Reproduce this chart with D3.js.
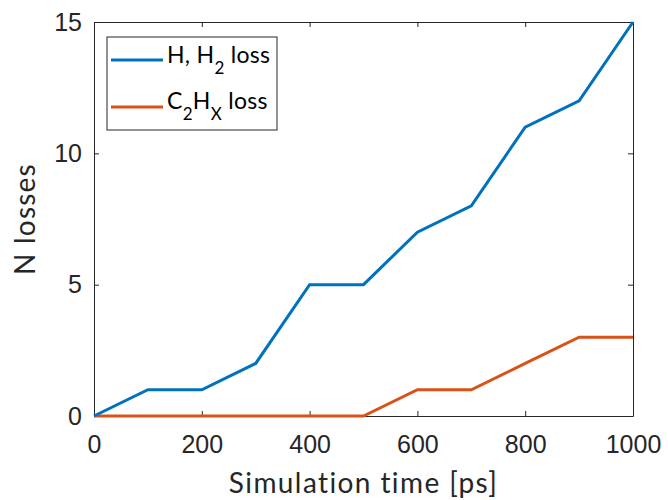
<!DOCTYPE html>
<html>
<head>
<meta charset="utf-8">
<script src="https://cdn.jsdelivr.net/npm/d3@7"></script>
<style>
  body { margin: 0; background: #fff; }
  svg { display: block; font-family: "Lato", "Open Sans", sans-serif; }
</style>
</head>
<body>
<div id="chart"></div>
<script>
const times = [0, 100, 200, 300, 400, 500, 600, 700, 800, 900, 1000];
const hLoss = [0, 1, 1, 2, 5, 5, 7, 8, 11, 12, 15];
const cLoss = [0, 0, 0, 0, 0, 0, 1, 1, 2, 3, 3];
const xTicks = [0, 200, 400, 600, 800, 1000];
const yTicks = [0, 5, 10, 15];

const W = 668, H = 500;
const margin = { top: 22, right: 35, bottom: 84, left: 94 };
const width = W - margin.left - margin.right;
const height = H - margin.top - margin.bottom;
const axisColor = "#262626";

const svg = d3.select("#chart").append("svg")
  .attr("width", W)
  .attr("height", H);

const g = svg.append("g")
  .attr("transform", `translate(${margin.left},${margin.top})`);

const x = d3.scaleLinear().domain([0, 1000]).range([0, width]);
const y = d3.scaleLinear().domain([0, 15]).range([height, 0]);

// axes with inward ticks, box on all sides
function styleAxis(sel) {
  sel.select(".domain").attr("stroke", axisColor).attr("stroke-width", 1);
  sel.selectAll(".tick line").attr("stroke", axisColor);
  sel.selectAll("text").attr("fill", axisColor).attr("font-size", 25);
}

g.append("g")
  .attr("transform", `translate(0,${height})`)
  .call(d3.axisBottom(x).tickValues(xTicks).tickFormat(d3.format("d"))
    .tickSizeInner(-5).tickSizeOuter(0).tickPadding(19))
  .call(styleAxis);

g.append("g")
  .call(d3.axisTop(x).tickValues(xTicks).tickSizeInner(-5).tickSizeOuter(0).tickFormat(""))
  .call(styleAxis);

g.append("g")
  .call(d3.axisLeft(y).tickValues(yTicks).tickSizeInner(-5).tickSizeOuter(0).tickPadding(12))
  .call(styleAxis);

g.append("g")
  .attr("transform", `translate(${width},0)`)
  .call(d3.axisRight(y).tickValues(yTicks).tickSizeInner(-5).tickSizeOuter(0).tickFormat(""))
  .call(styleAxis);

const line = d3.line()
  .x((d, i) => x(times[i]))
  .y(d => y(d));

g.append("path")
  .datum(cLoss)
  .attr("fill", "none")
  .attr("stroke", "#D95319")
  .attr("stroke-width", 3)
  .attr("d", line);

g.append("path")
  .datum(hLoss)
  .attr("fill", "none")
  .attr("stroke", "#0072BD")
  .attr("stroke-width", 3)
  .attr("d", line);

// axis titles
svg.append("text")
  .attr("x", margin.left + width / 2)
  .attr("y", 493)
  .attr("text-anchor", "middle")
  .attr("font-size", 28)
  .attr("letter-spacing", 1.4)
  .attr("fill", axisColor)
  .text("Simulation time [ps]");

svg.append("text")
  .attr("transform", `translate(35,${margin.top + height / 2}) rotate(-90)`)
  .attr("text-anchor", "middle")
  .attr("font-size", 28)
  .attr("letter-spacing", 1.2)
  .attr("fill", axisColor)
  .text("N losses");

// legend
const legend = g.append("g").attr("transform", "translate(13,15)");
legend.append("rect")
  .attr("width", 170)
  .attr("height", 93)
  .attr("fill", "#fff")
  .attr("stroke", axisColor)
  .attr("stroke-width", 1);

const legendItems = [
  { color: "#0072BD", parts: [["H, H", 0], ["2", 1], [" loss", 0]] },
  { color: "#D95319", parts: [["C", 0], ["2", 1], ["H", 0], ["X", 1], [" loss", 0]] }
];

legendItems.forEach((item, i) => {
  const cy = 23 + i * 47;
  legend.append("line")
    .attr("x1", 4).attr("x2", 56)
    .attr("y1", cy).attr("y2", cy)
    .attr("stroke", item.color)
    .attr("stroke-width", 3);
  const t = legend.append("text")
    .attr("x", 60)
    .attr("y", cy + 3 - i)
    .attr("font-size", 23)
    .attr("letter-spacing", 0.3)
    .attr("fill", "#000");
  item.parts.forEach(([s, sub], j) => {
    t.append("tspan")
      .attr("dy", sub ? 11 : (j > 0 ? -11 : 0))
      .attr("font-size", sub ? 17 : 23)
      .text(s);
  });
});
</script>
</body>
</html>
